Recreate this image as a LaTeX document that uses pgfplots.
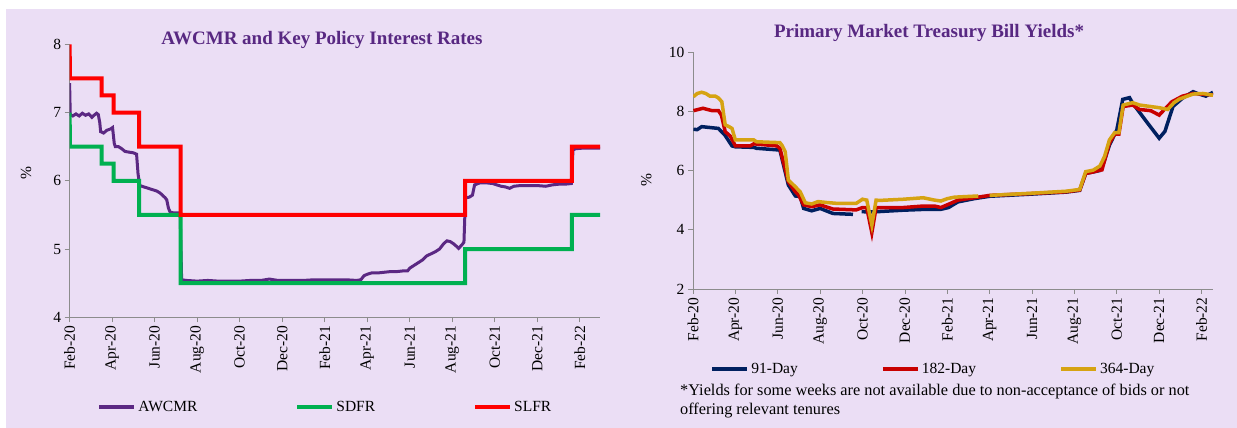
\documentclass[border=0pt]{standalone}
\usepackage{fontspec}
\setmainfont{Liberation Serif}
\usepackage{pgfplots}
\pgfplotsset{compat=1.18}
\definecolor{bg}{RGB}{235,222,245}
\definecolor{ttl}{RGB}{88,40,130}
\definecolor{awc}{RGB}{91,40,131}
\definecolor{sdf}{RGB}{0,176,80}
\definecolor{slf}{RGB}{255,0,0}
\definecolor{tb91}{RGB}{0,32,96}
\definecolor{tb182}{RGB}{200,0,0}
\definecolor{tb364}{RGB}{214,163,18}
\definecolor{axg}{RGB}{140,140,140}
\newcommand{\fs}{\fontsize{15.5}{17}\selectfont}
\pgfplotsset{
  mybase/.style={
    scale only axis,
    axis x line*=bottom, axis y line*=left,
    axis line style={axg,-,line width=0.8pt},
    tick style={axg,line width=0.8pt},
    tick align=outside, major tick length=5pt,
    tick label style={font=\fs},
    /pgf/number format/assume math mode=true,
    xtick={0,2,...,24},
    xticklabels={Feb-20,Apr-20,Jun-20,Aug-20,Oct-20,Dec-20,Feb-21,Apr-21,Jun-21,Aug-21,Oct-21,Dec-21,Feb-22},
    x tick label style={rotate=90,anchor=east},
    xmin=0,
    legend columns=3,
    legend cell align=left,
    legend image code/.code={\draw[##1,line width=4pt] (0pt,0pt) -- (35pt,0pt);},
    unbounded coords=jump,
  }
}
\begin{document}
\begin{tikzpicture}[x=1pt,y=1pt]
\fill[white] (0,0) rectangle (1237,428);
\fill[bg] (6,0) rectangle (1237,419);
% ---------------- left panel
\begin{axis}[mybase,
  at={(69.6pt,110.7pt)}, anchor=south west,
  width=530.4pt, height=273pt,
  xmax=24.95, ymin=4, ymax=8, ytick={4,5,6,7,8},
  ylabel={\%}, ylabel style={font=\fs, at={(axis description cs:-0.082,0.528)}, anchor=center},
  legend style={draw=none, fill=none, font=\fs, at={(axis description cs:0.052,-0.329)}, anchor=west, inner sep=0pt,
    /tikz/every even column/.append style={column sep=96pt}},
]
\addplot[awc, line width=3pt] coordinates {
(0,7.43)(0.03,6.97)(0.15,6.95)(0.3,6.98)(0.45,6.95)(0.6,6.99)(0.75,6.96)(0.9,6.98)(1.05,6.93)(1.15,6.96)(1.27,6.99)(1.35,6.97)(1.42,6.85)(1.46,6.72)(1.6,6.70)(1.75,6.74)(1.93,6.76)(2.02,6.78)(2.1,6.55)(2.15,6.5)(2.3,6.5)(2.45,6.47)(2.61,6.43)(2.8,6.42)(3.0,6.41)(3.15,6.39)(3.22,6.1)(3.3,5.93)(3.5,5.91)(3.7,5.89)(3.9,5.87)(4.1,5.85)(4.26,5.82)(4.4,5.78)(4.5,5.75)(4.57,5.72)(4.65,5.6)(4.73,5.54)(4.9,5.53)(5.2,5.53)(5.27,4.55)(5.5,4.54)(6,4.53)(6.5,4.54)(7,4.53)(7.5,4.53)(8,4.53)(8.5,4.54)(9.0,4.54)(9.4,4.56)(9.8,4.54)(10.5,4.54)(11,4.54)(11.5,4.55)(12,4.55)(12.5,4.55)(13,4.55)(13.5,4.54)(13.7,4.55)(13.85,4.61)(14.0,4.63)(14.2,4.65)(14.5,4.65)(14.8,4.66)(15.1,4.67)(15.4,4.67)(15.7,4.68)(15.9,4.68)(16.0,4.72)(16.2,4.76)(16.4,4.80)(16.6,4.84)(16.8,4.90)(17.0,4.93)(17.2,4.96)(17.4,5.0)(17.6,5.08)(17.75,5.12)(17.9,5.11)(18.05,5.08)(18.2,5.04)(18.3,5.01)(18.45,5.06)(18.55,5.1)(18.62,5.75)(18.8,5.76)(18.95,5.79)(19.05,5.94)(19.3,5.97)(19.6,5.97)(19.9,5.96)(20.1,5.94)(20.3,5.92)(20.5,5.91)(20.7,5.89)(20.9,5.92)(21.2,5.93)(21.6,5.93)(22.0,5.93)(22.4,5.92)(22.7,5.94)(23.0,5.95)(23.3,5.95)(23.6,5.96)(23.68,6.45)(23.8,6.47)(24.2,6.48)(24.6,6.48)(24.95,6.48)
};
\addlegendentry{AWCMR}
\addplot[sdf, line width=4pt] coordinates {
(0,7.0)(0.02,6.5)(1.51,6.5)(1.51,6.25)(2.07,6.25)(2.07,6.0)(3.27,6.0)(3.27,5.5)(5.22,5.5)(5.22,4.5)(18.6,4.5)(18.6,5.0)(23.63,5.0)(23.63,5.5)(24.95,5.5)
};
\addlegendentry{SDFR}
\addplot[slf, line width=4pt] coordinates {
(0,8.0)(0.02,7.5)(1.51,7.5)(1.51,7.25)(2.07,7.25)(2.07,7.0)(3.27,7.0)(3.27,6.5)(5.22,6.5)(5.22,5.5)(18.6,5.5)(18.6,6.0)(23.63,6.0)(23.63,6.5)(24.95,6.5)
};
\addlegendentry{SLFR}
\end{axis}
% ---------------- right panel
\begin{axis}[mybase,
  at={(693pt,139pt)}, anchor=south west,
  width=520pt, height=237pt,
  xmax=24.54, ymin=2, ymax=10, ytick={2,4,6,8,10},
  ylabel={\%}, ylabel style={font=\fs, at={(axis description cs:-0.09,0.46)}, anchor=center},
  legend style={draw=none, fill=none, font=\fs, at={(axis description cs:0.033,-0.338)}, anchor=west, inner sep=0pt,
    /tikz/every even column/.append style={column sep=81pt}},
]
\addplot[tb91, line width=3.5pt] coordinates {
(0.02,7.39)(0.2,7.38)(0.41,7.48)(1.2,7.42)(1.5,7.2)(1.84,6.83)(2.0,6.80)(2.87,6.78)(3.0,6.75)(4.1,6.69)(4.5,5.51)(4.83,5.14)(5.06,5.12)(5.22,4.72)(5.6,4.64)(6.0,4.72)(6.6,4.55)(7.55,4.52)(7.75,nan)(7.96,4.61)(8.44,4.6)(9.93,4.66)(11.0,4.69)(11.7,4.69)(12.06,4.75)(12.5,4.94)(13.27,5.05)(14.0,5.13)(15.9,5.2)(17.6,5.27)(18.25,5.33)(18.53,5.9)(18.88,5.95)(19.2,6.0)(19.4,6.3)(19.65,6.85)(20.0,7.37)(20.28,8.4)(20.6,8.46)(20.75,8.27)(21.4,7.65)(22.0,7.09)(22.27,7.32)(22.65,8.16)(23.1,8.44)(23.6,8.66)(23.8,8.6)(24.2,8.51)(24.54,8.64)
};
\addlegendentry{91-Day}
\addplot[tb182, line width=3.5pt] coordinates {
(0.02,8.02)(0.47,8.10)(0.9,8.02)(1.2,8.02)(1.34,7.87)(1.52,7.31)(1.76,7.16)(2.0,6.83)(2.7,6.83)(2.87,6.9)(3.96,6.83)(4.1,6.75)(4.5,5.62)(4.83,5.28)(4.99,5.17)(5.22,4.84)(5.6,4.78)(6.0,4.84)(6.6,4.70)(7.7,4.67)(8.0,4.75)(8.2,4.74)(8.44,3.90)(8.64,4.75)(9.93,4.75)(10.86,4.8)(11.4,4.8)(11.7,4.75)(12.06,4.86)(12.5,5.0)(13.27,5.08)(14.0,5.16)(15.9,5.22)(17.6,5.28)(18.25,5.34)(18.53,5.90)(18.88,5.95)(19.2,6.01)(19.3,6.02)(19.65,6.92)(19.9,7.23)(20.1,7.23)(20.3,8.16)(20.75,8.21)(21.07,8.06)(21.6,8.02)(22.0,7.87)(22.3,8.1)(22.6,8.32)(23.1,8.51)(23.6,8.6)(24.54,8.55)
};
\addlegendentry{182-Day}
\addplot[tb364, line width=3.5pt] coordinates {
(0.02,8.49)(0.2,8.6)(0.41,8.64)(0.6,8.6)(0.8,8.51)(1.05,8.51)(1.2,8.45)(1.36,8.32)(1.52,7.54)(1.7,7.48)(1.84,7.42)(2.0,7.03)(2.87,7.03)(3.0,6.97)(4.1,6.94)(4.2,6.85)(4.35,6.64)(4.5,5.68)(4.83,5.45)(5.06,5.28)(5.3,4.91)(5.6,4.87)(5.9,4.95)(6.3,4.92)(6.8,4.89)(7.7,4.89)(8.0,5.03)(8.2,5.0)(8.44,4.16)(8.64,5.0)(8.81,4.99)(9.93,5.03)(10.86,5.08)(11.4,5.0)(11.7,4.97)(12.0,5.05)(12.34,5.1)(13.46,5.14)(13.7,nan)(14.0,5.16)(15.9,5.23)(17.6,5.3)(18.25,5.36)(18.53,5.96)(18.88,6.01)(19.2,6.15)(19.42,6.47)(19.65,7.03)(19.9,7.28)(20.1,7.28)(20.3,8.21)(20.75,8.29)(21.07,8.21)(22.0,8.12)(22.4,8.06)(22.7,8.29)(22.95,8.41)(23.6,8.58)(24.06,8.6)(24.54,8.54)
};
\addlegendentry{364-Day}
\end{axis}
% titles
\node[font=\fontsize{19}{21}\selectfont\bfseries, text=ttl] at (322,388) {AWCMR and Key Policy Interest Rates};
\node[font=\fontsize{19}{21}\selectfont\bfseries, text=ttl] at (929,395) {Primary Market Treasury Bill Yields*};
\node[anchor=north west, align=left, inner sep=0pt, font=\fontsize{16.3}{19}\selectfont] at (680,44) {*Yields for some weeks are not available due to non-acceptance of bids or not\\offering relevant tenures};
\end{tikzpicture}
\end{document}
